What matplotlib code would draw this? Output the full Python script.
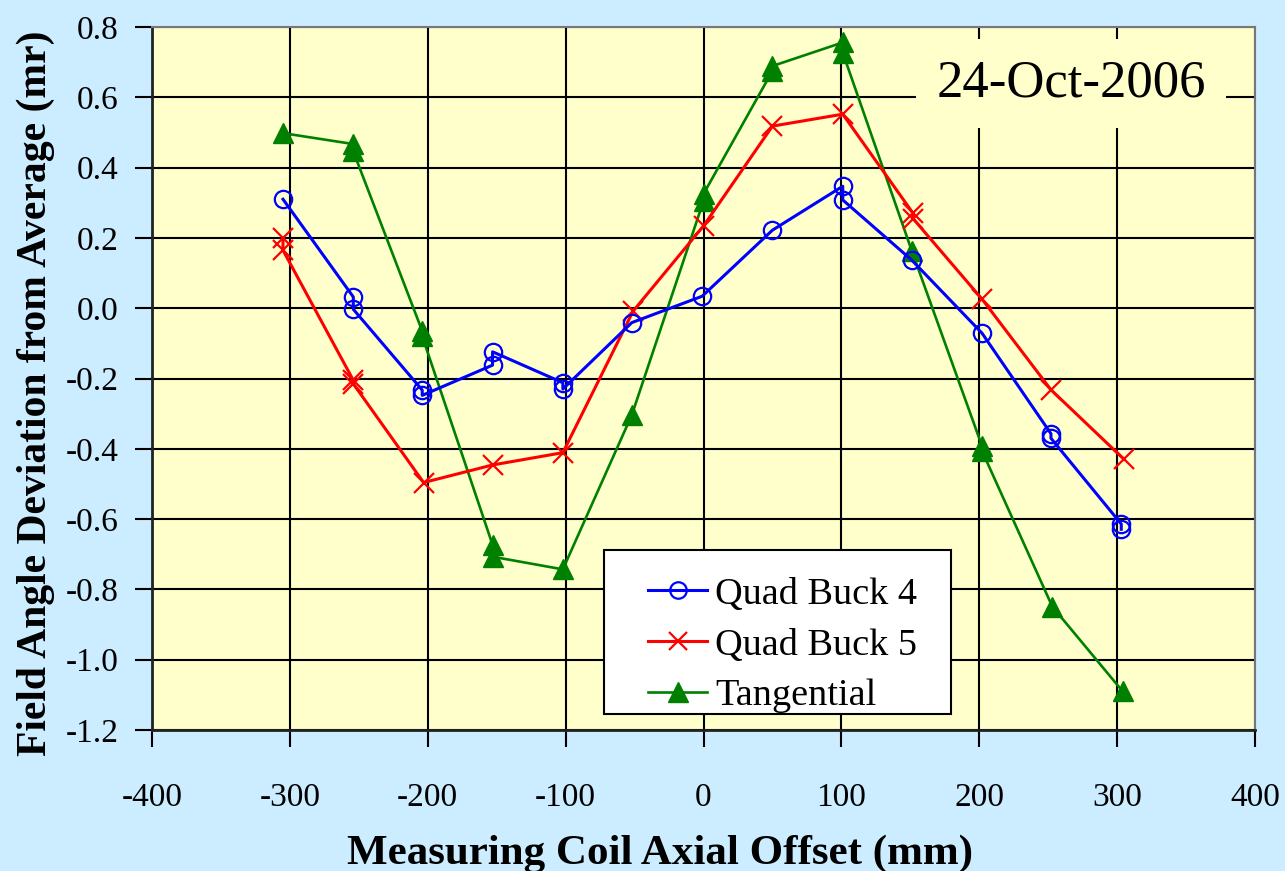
import matplotlib
matplotlib.use("Agg")
import matplotlib.pyplot as plt
from matplotlib.ticker import FuncFormatter
from matplotlib.patches import Rectangle

plt.rcParams['font.family'] = ['Liberation Serif', 'DejaVu Serif']

# Data (two measurements at most positions)
qb4_x = [-305, -254, -254, -204, -204, -153, -153, -102, -102, -52, -1, 50, 101, 101, 151, 202, 252, 252, 303, 303]
qb4_y = [0.31, 0.032, -0.003, -0.233, -0.248, -0.162, -0.124, -0.212, -0.23, -0.041, 0.034, 0.222, 0.347, 0.308,
         0.137, -0.071, -0.357, -0.37, -0.614, -0.629]

qb5_x = [-305, -305, -254, -254, -203, -153, -102, -51, 0, 50, 101, 152, 152, 202, 252, 305]
qb5_y = [0.199, 0.165, -0.205, -0.215, -0.496, -0.446, -0.411, -0.008, 0.234, 0.518, 0.552, 0.27, 0.255,
         0.026, -0.232, -0.43]

tan_x = [-305, -254, -254, -204, -204, -153, -153, -102, -52, 0, 0, 50, 50, 101, 101, 151, 202, 202, 253, 304]
tan_y = [0.498, 0.467, 0.446, -0.065, -0.08, -0.673, -0.707, -0.743, -0.304, 0.305, 0.325, 0.675, 0.689,
         0.756, 0.727, 0.164, -0.392, -0.406, -0.849, -1.09]

series_names = ["Quad Buck 4", "Quad Buck 5", "Tangential"]
date_label = "24-Oct-2006"
x_ticks = [-400, -300, -200, -100, 0, 100, 200, 300, 400]
y_ticks = [-1.2, -1.0, -0.8, -0.6, -0.4, -0.2, 0.0, 0.2, 0.4, 0.6, 0.8]

W, H = 1285, 871
fig = plt.figure(figsize=(W / 100, H / 100), dpi=100, facecolor='#CCECFF')
ax = fig.add_axes([152 / W, 1 - 730 / H, (1255 - 152) / W, (730 - 27) / H])
ax.set_facecolor('#FFFFCC')

ax.plot(qb4_x, qb4_y, color='#0000FF', lw=2.2, marker='o', ms=12.5, mfc='none', mec='#0000FF', mew=1.6,
        label=series_names[0], zorder=4)
ax.plot(qb5_x, qb5_y, color='#FF0000', lw=2.2, marker='x', ms=14, mec='#FF0000', mew=1.6,
        label=series_names[1], zorder=3)
ax.plot(tan_x, tan_y, color='#008000', lw=1.9, marker='^', ms=14.5, mfc='#008000', mec='#008000',
        label=series_names[2], zorder=2)

ax.set_xlim(-400, 400)
ax.set_ylim(-1.2, 0.8)
ax.set_xticks(x_ticks)
ax.set_yticks(y_ticks)
ax.yaxis.set_major_formatter(FuncFormatter(lambda v, p: f"{v:.1f}"))
ax.xaxis.set_major_formatter(FuncFormatter(lambda v, p: f"{int(round(v))}"))
ax.grid(True, color='black', lw=1.5, zorder=0)
ax.set_axisbelow(True)
ax.tick_params(axis='both', direction='out', length=12, width=1.5, colors='black', labelsize=24)
ax.tick_params(axis='x', pad=26)
ax.tick_params(axis='y', pad=12)
for s in ['left', 'bottom']:
    ax.spines[s].set_color('#222222')
    ax.spines[s].set_linewidth(2)
for s in ['top', 'right']:
    ax.spines[s].set_color('#777777')
    ax.spines[s].set_linewidth(1.5)

ax.set_xlabel("Measuring Coil Axial Offset (mm)", fontsize=31, fontweight='bold')
ax.xaxis.set_label_coords(0.4606, -0.148)
ax.set_ylabel("Field Angle Deviation from Average (mr)", fontsize=30, fontweight='bold')
ax.yaxis.set_label_coords(-0.088, 0.479)

ax.text(266.6, 0.639, date_label, fontsize=38, ha='center', va='center', zorder=5,
        bbox=dict(facecolor='#FFFFCC', edgecolor='none', pad=15))

# legend frame
frame = Rectangle((604 / W, 1 - 714 / H), (951 - 604) / W, (714 - 550) / H, transform=fig.transFigure,
                  facecolor='white', edgecolor='black', lw=1.5, zorder=6)
ax.add_patch(frame)
frame.set_clip_on(False)
leg = ax.legend(loc='upper left', bbox_to_anchor=(648 / W, 1 - 577 / H), bbox_transform=fig.transFigure,
                fontsize=27.5, frameon=False, borderaxespad=0, handlelength=1.55,
                handletextpad=0.2, borderpad=0, labelspacing=0.42, markerscale=0.95)
leg.set_zorder(7)

fig.savefig("out.png", dpi=100, facecolor=fig.get_facecolor())
